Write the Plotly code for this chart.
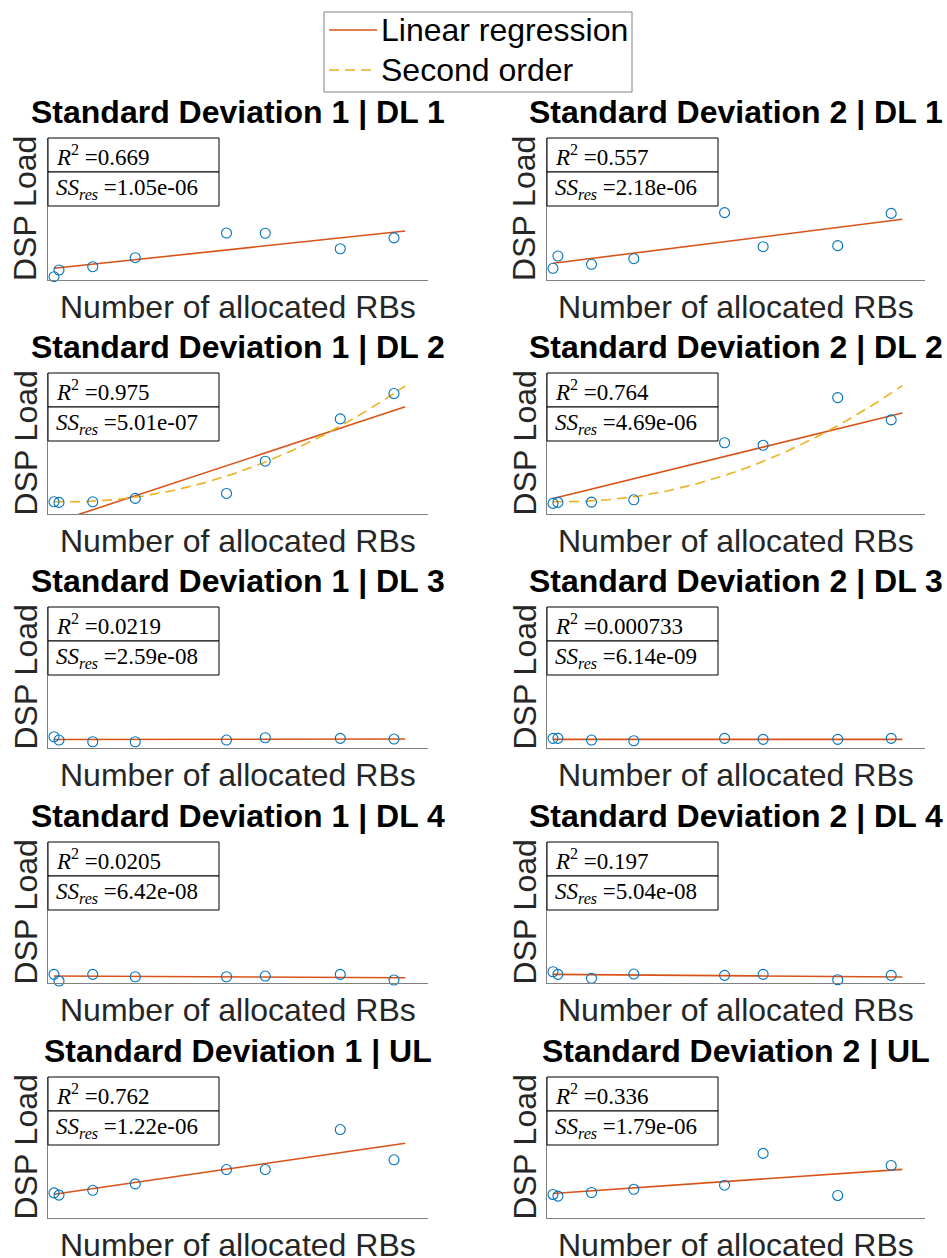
import numpy as np
import plotly.graph_objects as go

# Number of allocated RBs (same allocation sweep in every panel)
rbs = [1, 5, 32, 66, 139, 170, 230, 273]
fit_end = 282  # fitted curves are drawn from the first RB value up to here

# Measured DSP load per panel
dsp_sd1_dl1 = [1.28e-4, 3.87e-4, 5.15e-4, 8.64e-4, 18.2e-4, 18.1e-4, 12.1e-4, 16.3e-4]
dsp_sd2_dl1 = [4.53e-4, 9.30e-4, 6.08e-4, 8.25e-4, 26.1e-4, 12.9e-4, 13.3e-4, 25.8e-4]
dsp_sd1_dl2 = [4.76e-4, 4.53e-4, 4.76e-4, 6.08e-4, 8.02e-4, 20.6e-4, 37.1e-4, 47.0e-4]
dsp_sd2_dl2 = [4.14e-4, 4.53e-4, 4.65e-4, 5.54e-4, 27.8e-4, 26.8e-4, 45.4e-4, 36.7e-4]
dsp_sd1_dl3 = [4.38e-4, 3.10e-4, 2.44e-4, 2.44e-4, 3.10e-4, 3.99e-4, 3.76e-4, 3.49e-4]
dsp_sd2_dl3 = [3.76e-4, 3.76e-4, 3.10e-4, 2.83e-4, 3.76e-4, 3.37e-4, 3.37e-4, 3.76e-4]
dsp_sd1_dl4 = [3.37e-4, 0.77e-4, 3.37e-4, 2.44e-4, 2.44e-4, 2.71e-4, 3.37e-4, 1.16e-4]
dsp_sd2_dl4 = [4.38e-4, 3.37e-4, 1.82e-4, 3.49e-4, 2.98e-4, 3.37e-4, 1.28e-4, 2.98e-4]
dsp_sd1_ul = [9.80e-4, 8.91e-4, 10.8e-4, 13.3e-4, 18.9e-4, 18.9e-4, 34.5e-4, 22.7e-4]
dsp_sd2_ul = [9.18e-4, 8.52e-4, 9.95e-4, 11.2e-4, 12.8e-4, 25.2e-4, 8.79e-4, 20.5e-4]

# Linear regression per panel: (intercept, slope per RB)
lin_sd1_dl1 = (4.480e-4, 5.141e-6)
lin_sd2_dl1 = (6.407e-4, 6.064e-6)
lin_sd1_dl2 = (-3.505e-4, 1.6076e-5)
lin_sd2_dl2 = (5.962e-4, 1.1853e-5)
lin_sd1_dl3 = (3.331e-4, 5.5e-8)
lin_sd2_dl3 = (3.370e-4, 0.0)
lin_sd1_dl4 = (2.713e-4, -2.34e-7)
lin_sd2_dl4 = (3.373e-4, -3.72e-7)
lin_sd1_ul = (9.224e-4, 7.070e-6)
lin_sd2_ul = (9.533e-4, 3.349e-6)

# Second-order fit (constant, linear, quadratic coefficient), DL 2 only
quad_sd1_dl2 = (4.777e-4, -1.395e-6, 6.177e-8)
quad_sd2_dl2 = (4.774e-4, -1.084e-6, 6.081e-8)

titles = [
    "Standard Deviation 1 | DL 1", "Standard Deviation 2 | DL 1",
    "Standard Deviation 1 | DL 2", "Standard Deviation 2 | DL 2",
    "Standard Deviation 1 | DL 3", "Standard Deviation 2 | DL 3",
    "Standard Deviation 1 | DL 4", "Standard Deviation 2 | DL 4",
    "Standard Deviation 1 | UL", "Standard Deviation 2 | UL",
]
loads = [dsp_sd1_dl1, dsp_sd2_dl1, dsp_sd1_dl2, dsp_sd2_dl2, dsp_sd1_dl3,
         dsp_sd2_dl3, dsp_sd1_dl4, dsp_sd2_dl4, dsp_sd1_ul, dsp_sd2_ul]
lin_fits = [lin_sd1_dl1, lin_sd2_dl1, lin_sd1_dl2, lin_sd2_dl2, lin_sd1_dl3,
            lin_sd2_dl3, lin_sd1_dl4, lin_sd2_dl4, lin_sd1_ul, lin_sd2_ul]
quad_fits = [None, None, quad_sd1_dl2, quad_sd2_dl2, None,
             None, None, None, None, None]
r2_labels = ["0.669", "0.557", "0.975", "0.764", "0.0219",
             "0.000733", "0.0205", "0.197", "0.762", "0.336"]
ssres_labels = ["1.05e-06", "2.18e-06", "5.01e-07", "4.69e-06", "2.59e-08",
                "6.14e-09", "6.42e-08", "5.04e-08", "1.22e-06", "1.79e-06"]
legend_labels = ["Linear regression", "Second order"]

# Page geometry (pixels)
W, H = 947, 1258
col_px = [(48, 428), (547, 925)]
row_px = [(138, 280), (373, 514), (607, 748), (842, 983), (1077, 1218)]
x_range = [-3.8, 300.2]
y_range = [0, 5.5e-3]

C_POINTS = "#0072BD"
C_LIN = "#D95319"
C_QUAD = "#EDB120"
AXIS_GRAY = "#808080"
QUAD_DASH = "10px,6px"
SANS = "Liberation Sans, Arial, sans-serif"
SERIF = "Liberation Serif, Times New Roman, serif"
FS = 32

fig = go.Figure()
layout = dict(
    width=W, height=H, margin=dict(l=0, r=0, t=0, b=0),
    paper_bgcolor="white", plot_bgcolor="white",
    annotations=[], shapes=[], showlegend=False,
)

x_fit = np.linspace(rbs[0], fit_end, 200)

for i in range(10):
    r, c = divmod(i, 2)
    n = i + 1
    sfx = "" if n == 1 else str(n)
    xa, ya = "x" + sfx, "y" + sfx
    x0p, x1p = col_px[c]
    y0p, y1p = row_px[r]
    ax_w, ax_h = x1p - x0p, y1p - y0p

    axis_common = dict(showgrid=False, zeroline=False, showticklabels=False,
                       ticks="", showline=True, linecolor=AXIS_GRAY, linewidth=1,
                       fixedrange=True)
    layout["xaxis" + sfx] = dict(domain=[x0p / W, x1p / W], range=x_range,
                                 anchor=ya, **axis_common)
    layout["yaxis" + sfx] = dict(domain=[1 - y1p / H, 1 - y0p / H], range=y_range,
                                 anchor=xa, **axis_common)

    b0, b1 = lin_fits[i]
    fig.add_trace(go.Scatter(
        x=x_fit, y=b0 + b1 * x_fit, mode="lines",
        line=dict(color=C_LIN, width=1.6), xaxis=xa, yaxis=ya,
        name=legend_labels[0], hoverinfo="skip"))
    if quad_fits[i] is not None:
        q0, q1, q2 = quad_fits[i]
        fig.add_trace(go.Scatter(
            x=x_fit, y=q0 + q1 * x_fit + q2 * x_fit ** 2, mode="lines",
            line=dict(color=C_QUAD, width=1.6, dash=QUAD_DASH), xaxis=xa, yaxis=ya,
            name=legend_labels[1], hoverinfo="skip"))
    fig.add_trace(go.Scatter(
        x=rbs, y=loads[i], mode="markers", cliponaxis=False,
        marker=dict(symbol="circle-open", size=10, color=C_POINTS,
                    line=dict(width=1.1, color=C_POINTS)),
        xaxis=xa, yaxis=ya, name="DSP load"))

    # Statistics box: two stacked bordered cells in the top-left corner
    box_w, cell_h = 171, 34
    for k, txt in enumerate([
            "<i>R</i><sup>2</sup> =" + r2_labels[i],
            "<i>SS</i><sub><i>res</i></sub> =" + ssres_labels[i]]):
        top = 1 - k * cell_h / ax_h
        bot = 1 - (k + 1) * cell_h / ax_h
        layout["shapes"].append(dict(
            type="rect", xref=xa + " domain", yref=ya + " domain",
            x0=0, x1=box_w / ax_w, y0=bot, y1=top,
            line=dict(color="black", width=1), fillcolor="white", layer="above"))
        layout["annotations"].append(dict(
            xref=xa + " domain", yref=ya + " domain", x=6 / ax_w, y=(top + bot) / 2,
            xanchor="left", yanchor="middle", showarrow=False, text=txt,
            font=dict(family=SERIF, size=23, color="black")))

    # Title, axis labels
    layout["annotations"].append(dict(
        xref=xa + " domain", yref=ya + " domain", x=0.5, y=1, yshift=26,
        xanchor="center", yanchor="middle", showarrow=False,
        text="<b>" + titles[i] + "</b>",
        font=dict(family=SANS, size=FS, color="black")))
    layout["annotations"].append(dict(
        xref=xa + " domain", yref=ya + " domain", x=0.5, y=0, yshift=-27,
        xanchor="center", yanchor="middle", showarrow=False,
        text="Number of allocated RBs",
        font=dict(family=SANS, size=FS, color="#262626")))
    layout["annotations"].append(dict(
        xref=xa + " domain", yref=ya + " domain", x=0, y=0.5, xshift=-23,
        xanchor="center", yanchor="middle", showarrow=False, textangle=-90,
        text="DSP Load",
        font=dict(family=SANS, size=FS, color="#262626")))

# Legend box at the top centre: frame, line samples and labels
leg_l, leg_r, leg_t, leg_b = 324, 632, 12, 92
leg_rows = [30, 70]
layout["shapes"].append(dict(
    type="rect", xref="paper", yref="paper",
    x0=leg_l / W, x1=leg_r / W, y0=1 - leg_b / H, y1=1 - leg_t / H,
    line=dict(color=AXIS_GRAY, width=1), fillcolor="white"))
for yy, col, dash, lbl in zip(leg_rows, [C_LIN, C_QUAD], ["solid", QUAD_DASH],
                              legend_labels):
    layout["shapes"].append(dict(
        type="line", xref="paper", yref="paper",
        x0=(leg_l + 5) / W, x1=(leg_l + 53) / W, y0=1 - yy / H, y1=1 - yy / H,
        line=dict(color=col, width=1.6, dash=dash)))
    layout["annotations"].append(dict(
        xref="paper", yref="paper", x=(leg_l + 55) / W, y=1 - yy / H,
        xanchor="left", yanchor="middle", showarrow=False, text=lbl,
        font=dict(family=SANS, size=FS, color="black")))

fig.update_layout(**layout)
fig.write_html("out.html")
